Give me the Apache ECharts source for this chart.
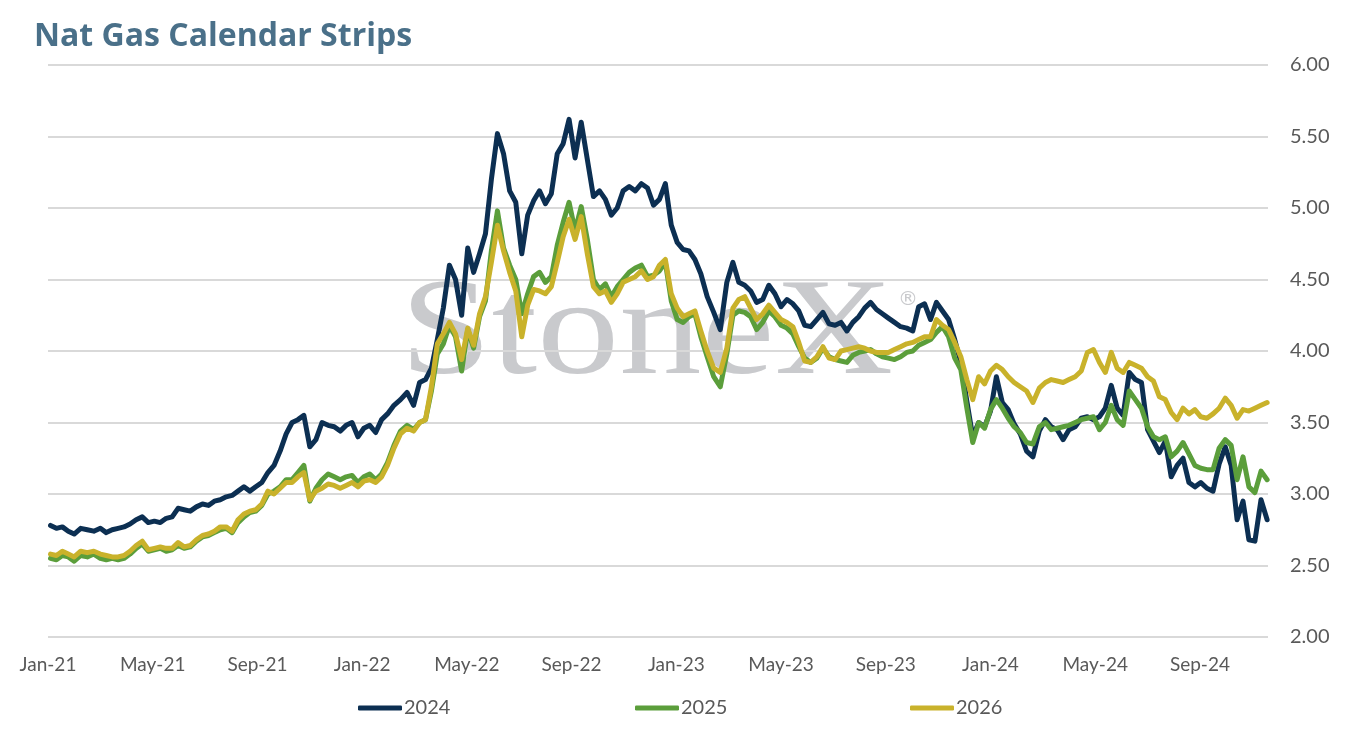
<!DOCTYPE html>
<html>
<head>
<meta charset="utf-8">
<script src="https://cdn.jsdelivr.net/npm/echarts@6/dist/echarts.min.js"></script>
<style>
html,body{margin:0;padding:0;background:#fff;}
#chart{width:1347px;height:730px;}
</style>
</head>
<body>
<div id="chart"></div>
<script>
const seriesNames = ['2024', '2025', '2026'];
const tickLabels = ['Jan-21','May-21','Sep-21','Jan-22','May-22','Sep-22','Jan-23','May-23','Sep-23','Jan-24','May-24','Sep-24'];
const firstWeek = [2021, 1, 4]; // weekly observations starting Mon 4 Jan 2021

const s2024 = [
2.78,2.76,2.77,2.74,2.72,2.76,2.75,2.74,2.76,2.73,
2.75,2.76,2.77,2.79,2.82,2.84,2.80,2.81,2.80,2.83,
2.84,2.90,2.89,2.88,2.91,2.93,2.92,2.95,2.96,2.98,
2.99,3.02,3.05,3.02,3.05,3.08,3.15,3.20,3.30,3.42,
3.50,3.52,3.55,3.33,3.38,3.50,3.48,3.47,3.44,3.48,
3.50,3.40,3.46,3.48,3.43,3.52,3.56,3.62,3.66,3.71,
3.62,3.78,3.80,3.88,4.08,4.30,4.60,4.50,4.25,4.72,
4.55,4.68,4.82,5.20,5.52,5.38,5.12,5.04,4.68,4.95,
5.05,5.12,5.03,5.10,5.38,5.45,5.62,5.35,5.60,5.34,
5.08,5.12,5.06,4.95,5.00,5.12,5.15,5.12,5.17,5.14,
5.02,5.06,5.17,4.88,4.76,4.71,4.70,4.64,4.54,4.38,
4.27,4.15,4.48,4.62,4.48,4.46,4.42,4.34,4.36,4.46,
4.40,4.31,4.36,4.33,4.28,4.18,4.17,4.22,4.27,4.19,
4.18,4.20,4.14,4.20,4.24,4.30,4.34,4.29,4.26,4.23,
4.20,4.17,4.16,4.14,4.31,4.33,4.22,4.34,4.28,4.22,
4.08,3.92,3.65,3.40,3.50,3.47,3.58,3.82,3.64,3.59,
3.49,3.42,3.30,3.26,3.44,3.52,3.47,3.45,3.38,3.45,
3.47,3.53,3.54,3.52,3.54,3.60,3.76,3.60,3.55,3.85,
3.80,3.78,3.45,3.37,3.29,3.37,3.12,3.20,3.25,3.08,
3.05,3.08,3.04,3.02,3.21,3.33,3.20,2.82,2.95,2.68,
2.67,2.96,2.82
];
const s2025 = [
2.55,2.54,2.57,2.56,2.53,2.57,2.56,2.58,2.55,2.54,
2.55,2.54,2.55,2.58,2.62,2.65,2.60,2.61,2.62,2.60,
2.61,2.64,2.62,2.63,2.67,2.70,2.71,2.73,2.75,2.76,
2.73,2.80,2.84,2.87,2.88,2.92,3.00,3.02,3.05,3.10,
3.10,3.15,3.20,2.95,3.04,3.10,3.14,3.12,3.10,3.12,
3.13,3.08,3.12,3.14,3.10,3.14,3.22,3.34,3.44,3.48,
3.45,3.50,3.52,3.72,3.98,4.05,4.18,4.10,3.86,4.15,
4.02,4.24,4.35,4.70,4.98,4.72,4.60,4.50,4.26,4.40,
4.52,4.55,4.48,4.52,4.74,4.90,5.04,4.84,5.01,4.78,
4.50,4.43,4.47,4.38,4.45,4.50,4.55,4.58,4.60,4.52,
4.53,4.56,4.62,4.35,4.22,4.20,4.24,4.26,4.10,3.96,
3.82,3.75,3.98,4.25,4.28,4.27,4.24,4.15,4.20,4.28,
4.24,4.18,4.16,4.12,4.03,3.95,3.92,3.95,4.02,3.96,
3.94,3.93,3.92,3.97,3.99,4.00,4.01,3.98,3.96,3.95,
3.94,3.96,3.99,4.00,4.04,4.06,4.08,4.13,4.17,4.10,
3.95,3.87,3.60,3.36,3.50,3.46,3.59,3.66,3.60,3.53,
3.47,3.43,3.36,3.35,3.47,3.50,3.45,3.46,3.47,3.48,
3.50,3.52,3.53,3.54,3.45,3.50,3.62,3.52,3.48,3.72,
3.66,3.60,3.47,3.40,3.38,3.40,3.26,3.30,3.36,3.28,
3.20,3.18,3.17,3.17,3.32,3.38,3.34,3.10,3.26,3.05,
3.01,3.16,3.10
];
const s2026 = [
2.58,2.57,2.60,2.58,2.56,2.60,2.59,2.60,2.58,2.57,
2.56,2.56,2.57,2.60,2.64,2.67,2.61,2.62,2.63,2.62,
2.62,2.66,2.63,2.64,2.68,2.71,2.72,2.74,2.77,2.77,
2.74,2.82,2.86,2.88,2.89,2.93,3.02,3.00,3.04,3.08,
3.08,3.12,3.15,2.96,3.02,3.04,3.07,3.06,3.04,3.06,
3.08,3.05,3.09,3.10,3.08,3.12,3.20,3.32,3.42,3.46,
3.44,3.50,3.52,3.75,4.05,4.12,4.20,4.12,3.94,4.16,
4.04,4.26,4.38,4.62,4.88,4.70,4.55,4.42,4.10,4.32,
4.43,4.42,4.40,4.45,4.62,4.80,4.92,4.78,4.94,4.68,
4.45,4.40,4.42,4.34,4.40,4.48,4.50,4.52,4.56,4.50,
4.52,4.60,4.64,4.40,4.30,4.24,4.26,4.28,4.14,4.00,
3.88,3.85,4.02,4.30,4.36,4.38,4.30,4.22,4.26,4.32,
4.27,4.22,4.20,4.17,4.06,3.93,3.92,3.96,4.03,3.95,
3.94,4.00,4.01,4.02,4.03,4.02,4.00,3.99,3.99,3.99,
4.01,4.03,4.05,4.06,4.08,4.10,4.10,4.22,4.18,4.15,
4.06,3.96,3.80,3.66,3.82,3.77,3.86,3.90,3.87,3.82,
3.78,3.75,3.72,3.64,3.74,3.78,3.80,3.79,3.78,3.80,
3.82,3.86,3.99,4.01,3.92,3.85,3.99,3.88,3.85,3.92,
3.90,3.88,3.82,3.79,3.68,3.66,3.57,3.52,3.60,3.56,
3.59,3.54,3.53,3.56,3.60,3.67,3.62,3.53,3.59,3.58,
3.60,3.62,3.64
];

// weekly dates -> position in months since Jan-21
function weekDate(i) {
  return new Date(Date.UTC(firstWeek[0], firstWeek[1] - 1, firstWeek[2] + 7 * i));
}
function monthPos(d) {
  const y = d.getUTCFullYear(), m = d.getUTCMonth(), day = d.getUTCDate();
  const dim = new Date(Date.UTC(y, m + 1, 0)).getUTCDate();
  return (y - 2021) * 12 + m + (day - 1) / dim;
}
function toPoints(arr) {
  return arr.map((v, i) => [monthPos(weekDate(i)), v]);
}

const colors = ['#0c2f52', '#5b9e3b', '#c9b22b'];
const allSeries = [s2024, s2025, s2026];
const labelColor = '#595959';
const fontFam = 'Lato, "Open Sans", sans-serif';

const chart = echarts.init(document.getElementById('chart'));
chart.setOption({
  animation: false,
  backgroundColor: '#ffffff',
  title: {
    text: 'Nat Gas Calendar Strips',
    left: 29, top: 16,
    textStyle: { color: '#4a7089', fontSize: 32, fontWeight: 'bold', fontFamily: '"Open Sans", Lato, sans-serif' }
  },
  graphic: [
    { type: 'text', x: 400, y: 337, z: 0, scaleX: 1.2,
      style: { text: 'StoneX', font: 'normal 137px "Liberation Serif", serif', fill: '#c9cacd', verticalAlign: 'middle', align: 'left' } },
    { type: 'text', x: 898, y: 300, z: 0,
      style: { text: '\u00AE', font: 'normal 20px "DejaVu Sans", sans-serif', fill: '#c9cacd', verticalAlign: 'middle', align: 'left' } }
  ],
  grid: { left: 48, right: 79, top: 65, bottom: 93, containLabel: false },
  legend: seriesNames.map((n, k) => ({
    data: [n],
    left: [353, 630, 905][k],
    top: 693,
    icon: 'roundRect',
    itemWidth: 44,
    itemHeight: 5,
    textStyle: { color: labelColor, fontSize: 20, fontFamily: fontFam, padding: [0, 0, 0, -3] }
  })),
  xAxis: {
    type: 'value',
    min: 0,
    max: 46.6,
    interval: 4,
    axisLine: { show: false },
    axisTick: { show: false },
    splitLine: { show: false },
    axisLabel: {
      showMaxLabel: false,
      margin: 18,
      color: labelColor,
      fontSize: 19,
      fontFamily: fontFam,
      formatter: v => { const k = Math.round(v / 4); return (Math.abs(v - k * 4) < 1e-6 && tickLabels[k]) ? tickLabels[k] : ''; }
    }
  },
  yAxis: {
    type: 'value',
    position: 'right',
    min: 2,
    max: 6,
    interval: 0.5,
    axisLine: { show: false },
    axisTick: { show: false },
    splitLine: { lineStyle: { color: '#d9d9d9', width: 2 } },
    axisLabel: {
      margin: 22,
      color: labelColor,
      fontSize: 20,
      fontFamily: fontFam,
      formatter: v => v.toFixed(2)
    }
  },
  series: seriesNames.map((n, k) => ({
    name: n,
    type: 'line',
    data: toPoints(allSeries[k]),
    showSymbol: false,
    symbol: 'none',
    z: 3 + k,
    itemStyle: { color: colors[k] },
    lineStyle: { color: colors[k], width: 5, join: 'round', cap: 'round' }
  }))
});
</script>
</body>
</html>
